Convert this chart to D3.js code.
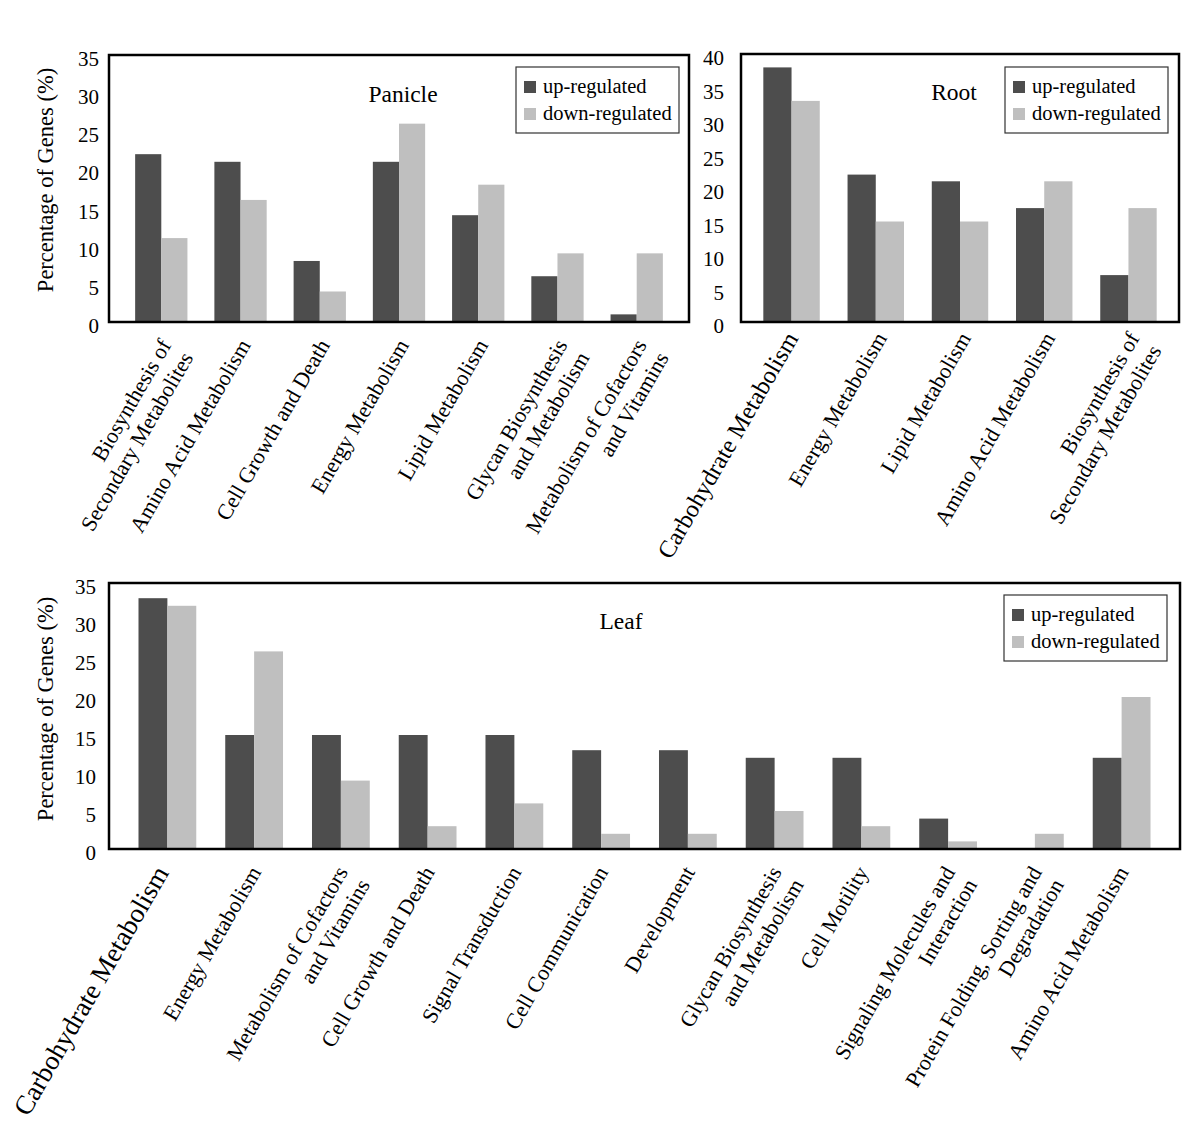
<!DOCTYPE html>
<html>
<head>
<meta charset="utf-8">
<script src="https://cdn.jsdelivr.net/npm/d3@7"></script>
<style>
  html, body { margin: 0; padding: 0; background: #fff; }
  svg { display: block; font-family: "Liberation Serif", "Times New Roman", serif; }
</style>
</head>
<body>
<svg id="chart" width="1200" height="1135"></svg>
<script>
// ---------------- DATA ----------------
const seriesNames = ["up-regulated", "down-regulated"];

const panicleCategories = [
  "Biosynthesis of\nSecondary Metabolites",
  "Amino Acid Metabolism",
  "Cell Growth and Death",
  "Energy Metabolism",
  "Lipid Metabolism",
  "Glycan Biosynthesis\nand Metabolism",
  "Metabolism of Cofactors\nand Vitamins"
];
const panicleUp   = [22, 21, 8, 21, 14, 6, 1];
const panicleDown = [11, 16, 4, 26, 18, 9, 9];
const panicleTicks = [0, 5, 10, 15, 20, 25, 30, 35];

const rootCategories = [
  "Carbohydrate Metabolism",
  "Energy Metabolism",
  "Lipid Metabolism",
  "Amino Acid Metabolism",
  "Biosynthesis of\nSecondary Metabolites"
];
const rootUp   = [38, 22, 21, 17, 7];
const rootDown = [33, 15, 15, 21, 17];
const rootTicks = [0, 5, 10, 15, 20, 25, 30, 35, 40];

const leafCategories = [
  "Carbohydrate Metabolism",
  "Energy Metabolism",
  "Metabolism of Cofactors\nand Vitamins",
  "Cell Growth and Death",
  "Signal Transduction",
  "Cell Communication",
  "Development",
  "Glycan Biosynthesis\nand Metabolism",
  "Cell Motility",
  "Signaling Molecules and\nInteraction",
  "Protein Folding, Sorting and\nDegradation",
  "Amino Acid Metabolism"
];
const leafUp   = [33, 15, 15, 15, 15, 13, 13, 12, 12, 4, 0, 12];
const leafDown = [32, 26, 9, 3, 6, 2, 2, 5, 3, 1, 2, 20];
const leafTicks = [0, 5, 10, 15, 20, 25, 30, 35];

const titles = ["Panicle", "Root", "Leaf"];
const yAxisTitle = "Percentage of Genes (%)";

// ---------------- STYLE / LAYOUT ----------------
const colors = { "up-regulated": "#4d4d4d", "down-regulated": "#bfbfbf" };
const svg = d3.select("#chart");
svg.append("rect").attr("width", 1200).attr("height", 1135).attr("fill", "#fff");

function drawPanel(cfg) {
  const g = svg.append("g");
  const x = d3.scaleBand().domain(cfg.categories).range([cfg.x0, cfg.x1])
    .paddingInner(cfg.padIn).paddingOuter(cfg.padOut);
  const xs = d3.scaleBand().domain(seriesNames).range([0, x.bandwidth()]);
  const y = d3.scaleLinear().domain([0, cfg.ymax]).range([cfg.y1, cfg.y0]);

  const rows = cfg.categories.map((c, i) => ({ cat: c, vals: [
    { key: seriesNames[0], v: cfg.up[i] },
    { key: seriesNames[1], v: cfg.down[i] }
  ]}));

  // bars
  const grp = g.selectAll("g.cat").data(rows).join("g")
    .attr("transform", d => `translate(${x(d.cat)},0)`);
  grp.selectAll("rect").data(d => d.vals).join("rect")
    .attr("x", d => xs(d.key))
    .attr("width", xs.bandwidth())
    .attr("y", d => y(d.v))
    .attr("height", d => y(0) - y(d.v))
    .attr("fill", d => colors[d.key]);

  // y axis
  const ax = g.append("g").attr("transform", `translate(${cfg.x0},0)`)
    .call(d3.axisLeft(y).tickValues(cfg.ticks).tickSize(0).tickPadding(cfg.tickGap));
  ax.select(".domain").remove();
  ax.selectAll("text").attr("font-family", "Liberation Serif, Times New Roman, serif")
    .attr("font-size", 21).attr("fill", "#000").attr("dy", "0.5em");

  // frame
  g.append("rect").attr("x", cfg.x0).attr("y", cfg.y0)
    .attr("width", cfg.x1 - cfg.x0).attr("height", cfg.y1 - cfg.y0)
    .attr("fill", "none").attr("stroke", "#000").attr("stroke-width", 2.5);

  // category labels
  const lab = g.selectAll("text.cat").data(cfg.categories).join("text")
    .attr("class", "cat")
    .attr("text-anchor", "end")
    .attr("font-size", (d, i) => (i === 0 && cfg.firstLabelSize) ? cfg.firstLabelSize : 22)
    .attr("fill", "#000")
    .attr("transform", (d, i) => {
      const dx = cfg.labDx + ((i === 0 && cfg.firstLabelDx) ? cfg.firstLabelDx : 0);
      return `translate(${x(d) + x.bandwidth() / 2 + dx},${cfg.y1 + cfg.labDy}) rotate(-60)`;
    });
  lab.each(function(d) {
    const t = d3.select(this);
    d.split("\n").forEach((line, j) => {
      t.append("tspan").attr("x", 0).attr("dy", j === 0 ? "0.35em" : "1.15em").text(line);
    });
  });

  // title
  g.append("text").attr("x", cfg.titleX).attr("y", cfg.titleY)
    .attr("text-anchor", "middle").attr("font-size", 23.5).text(cfg.title);

  // legend
  const lg = g.append("g").attr("transform", `translate(${cfg.x1 - cfg.legRight - 163},${cfg.y0 + cfg.legTop})`);
  lg.append("rect").attr("width", 163).attr("height", 66)
    .attr("fill", "#fff").attr("stroke", "#333").attr("stroke-width", 1.2);
  seriesNames.forEach((s, i) => {
    lg.append("rect").attr("x", 8).attr("y", 14 + i * 27).attr("width", 12).attr("height", 12)
      .attr("fill", colors[s]);
    lg.append("text").attr("x", 27).attr("y", 26 + i * 27).attr("font-size", 20.5).text(s);
  });

  // y axis title
  if (cfg.yTitle) {
    g.append("text")
      .attr("transform", `translate(${cfg.yTitleX},${cfg.yTitleY}) rotate(-90)`)
      .attr("text-anchor", "middle").attr("font-size", 22.5).text(yAxisTitle);
  }
}

drawPanel({
  categories: panicleCategories, up: panicleUp, down: panicleDown, ticks: panicleTicks, ymax: 35,
  x0: 109, x1: 689, y0: 55, y1: 322, padIn: 0.34, padOut: 0.33, tickGap: 10,
  labDx: 4, labDy: 19, title: titles[0], titleX: 403, titleY: 102,
  legRight: 10, legTop: 12, yTitle: true, yTitleX: 53, yTitleY: 180
});
drawPanel({
  categories: rootCategories, up: rootUp, down: rootDown, ticks: rootTicks, ymax: 40,
  x0: 741, x1: 1179, y0: 54, y1: 322, padIn: 0.33, padOut: 0.265, tickGap: 17,
  labDx: 5, labDy: 12, firstLabelSize: 24.5, firstLabelDx: -5, title: titles[1], titleX: 954, titleY: 100,
  legRight: 11, legTop: 13, yTitle: false
});
drawPanel({
  categories: leafCategories, up: leafUp, down: leafDown, ticks: leafTicks, ymax: 35,
  x0: 109, x1: 1180, y0: 583, y1: 849, padIn: 0.334, padOut: 0.34, tickGap: 13,
  labDx: 1, labDy: 19, firstLabelSize: 27, firstLabelDx: -7, title: titles[2], titleX: 621, titleY: 629,
  legRight: 13, legTop: 12, yTitle: true, yTitleX: 53, yTitleY: 709
});
</script>
</body>
</html>
